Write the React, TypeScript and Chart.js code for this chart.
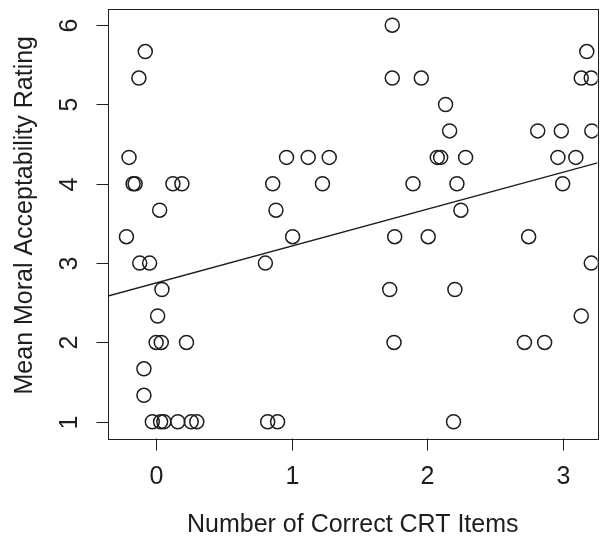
import React, { useEffect, useRef } from "react";
import { Chart, registerables } from "chart.js";

Chart.register(...registerables);

// ---- data ----
const crtX: number[] = [
  // around 0 correct
  -0.08, -0.127, -0.2, -0.17, -0.155, 0.124, 0.19, 0.026, -0.219, -0.121, -0.048,
  0.043, 0.011, 0.0, 0.038, 0.224, -0.09, -0.09, -0.028, 0.033, 0.057, 0.16, 0.259, 0.3,
  // around 1 correct
  0.962, 1.122, 1.277, 0.86, 1.227, 0.884, 1.007, 0.806, 0.823, 0.896,
  // around 2 correct
  1.742, 1.742, 1.956, 2.135, 2.165, 2.074, 2.099, 2.283, 1.895, 2.219, 2.248, 1.76,
  2.007, 1.723, 2.204, 1.755, 2.194,
  // around 3 correct
  3.177, 3.136, 3.21, 2.815, 2.989, 3.214, 2.964, 3.096, 2.999, 2.748, 3.21, 3.136,
  2.717, 2.866,
];
const ratingY: number[] = [
  5.667, 5.333, 4.333, 4.0, 4.0, 4.0, 4.0, 3.667, 3.333, 3.0, 3.0,
  2.667, 2.333, 2.0, 2.0, 2.0, 1.667, 1.333, 1.0, 1.0, 1.0, 1.0, 1.0, 1.0,
  4.333, 4.333, 4.333, 4.0, 4.0, 3.667, 3.333, 3.0, 1.0, 1.0,
  6.0, 5.333, 5.333, 5.0, 4.667, 4.333, 4.333, 4.333, 4.0, 4.0, 3.667, 3.333,
  3.333, 2.667, 2.667, 2.0, 1.0,
  5.667, 5.333, 5.333, 4.667, 4.667, 4.667, 4.333, 4.333, 4.0, 3.333, 3.0, 2.333,
  2.0, 2.0,
];
const fitIntercept = 2.75;
const fitSlope = 0.465;
const xTicks: number[] = [0, 1, 2, 3];
const yTicks: number[] = [1, 2, 3, 4, 5, 6];
const xTitle = "Number of Correct CRT Items";
const yTitle = "Mean Moral Acceptability Rating";

const X_MIN = -0.355;
const X_MAX = 3.256;
const Y_MIN = 0.795;
const Y_MAX = 6.21;

const INK = "#1e1e1e";
const FONT = "25px 'Liberation Sans', Arial, Helvetica, sans-serif";

const axesPlugin = {
  id: "rAxes",
  afterDraw(chart: any) {
    const { ctx, chartArea, scales } = chart;
    const xs = scales.x;
    const ys = scales.y;
    ctx.save();
    ctx.strokeStyle = INK;
    ctx.lineWidth = 1;
    // box
    ctx.strokeRect(
      Math.round(chartArea.left) + 0.5,
      Math.round(chartArea.top) + 0.5,
      Math.round(chartArea.right - chartArea.left),
      Math.round(chartArea.bottom - chartArea.top)
    );
    ctx.fillStyle = INK;
    ctx.font = FONT;
    // x ticks
    const by = Math.round(chartArea.bottom) + 0.5;
    ctx.textAlign = "center";
    ctx.textBaseline = "alphabetic";
    xTicks.forEach((t) => {
      const px = Math.round(xs.getPixelForValue(t)) + 0.5;
      ctx.beginPath();
      ctx.moveTo(px, by);
      ctx.lineTo(px, by + 12);
      ctx.stroke();
      ctx.fillText(String(t), px, 483.5);
    });
    // y ticks
    const lx = Math.round(chartArea.left) + 0.5;
    yTicks.forEach((t) => {
      const py = Math.round(ys.getPixelForValue(t)) + 0.5;
      ctx.beginPath();
      ctx.moveTo(lx, py);
      ctx.lineTo(lx - 12, py);
      ctx.stroke();
      ctx.save();
      ctx.translate(76.7, py);
      ctx.rotate(-Math.PI / 2);
      ctx.fillText(String(t), 0, 0);
      ctx.restore();
    });
    // titles
    ctx.fillText(xTitle, (chartArea.left + chartArea.right) / 2, 531.7);
    ctx.save();
    ctx.translate(31.7, (chartArea.top + chartArea.bottom) / 2 - 8);
    ctx.rotate(-Math.PI / 2);
    ctx.fillText(yTitle, 0, 0);
    ctx.restore();
    ctx.restore();
  },
};

export default function App() {
  const ref = useRef<HTMLCanvasElement>(null);
  useEffect(() => {
    document.body.style.margin = "0";
    const points = crtX.map((x, i) => ({ x, y: ratingY[i] }));
    const fitLine = [X_MIN, X_MAX].map((x) => ({ x, y: fitIntercept + fitSlope * x }));
    const chart = new Chart(ref.current as HTMLCanvasElement, {
      type: "scatter",
      data: {
        datasets: [
          {
            type: "line",
            data: fitLine,
            borderColor: INK,
            borderWidth: 1.3,
            pointRadius: 0,
            fill: false,
          } as any,
          {
            data: points,
            pointStyle: "circle",
            pointRadius: 7,
            pointHoverRadius: 7,
            borderWidth: 1.5,
            borderColor: INK,
            backgroundColor: "rgba(0,0,0,0)",
          },
        ],
      },
      options: {
        responsive: false,
        animation: false,
        layout: { padding: { left: 108, top: 7, right: 7, bottom: 99 } },
        plugins: { legend: { display: false }, tooltip: { enabled: false } },
        scales: {
          x: { type: "linear", min: X_MIN, max: X_MAX, display: false },
          y: { type: "linear", min: Y_MIN, max: Y_MAX, display: false },
        },
      },
      plugins: [axesPlugin],
    });
    return () => chart.destroy();
  }, []);
  return (
    <div style={{ width: 606, height: 537 }}>
      <canvas ref={ref} width={606} height={537} />
    </div>
  );
}
